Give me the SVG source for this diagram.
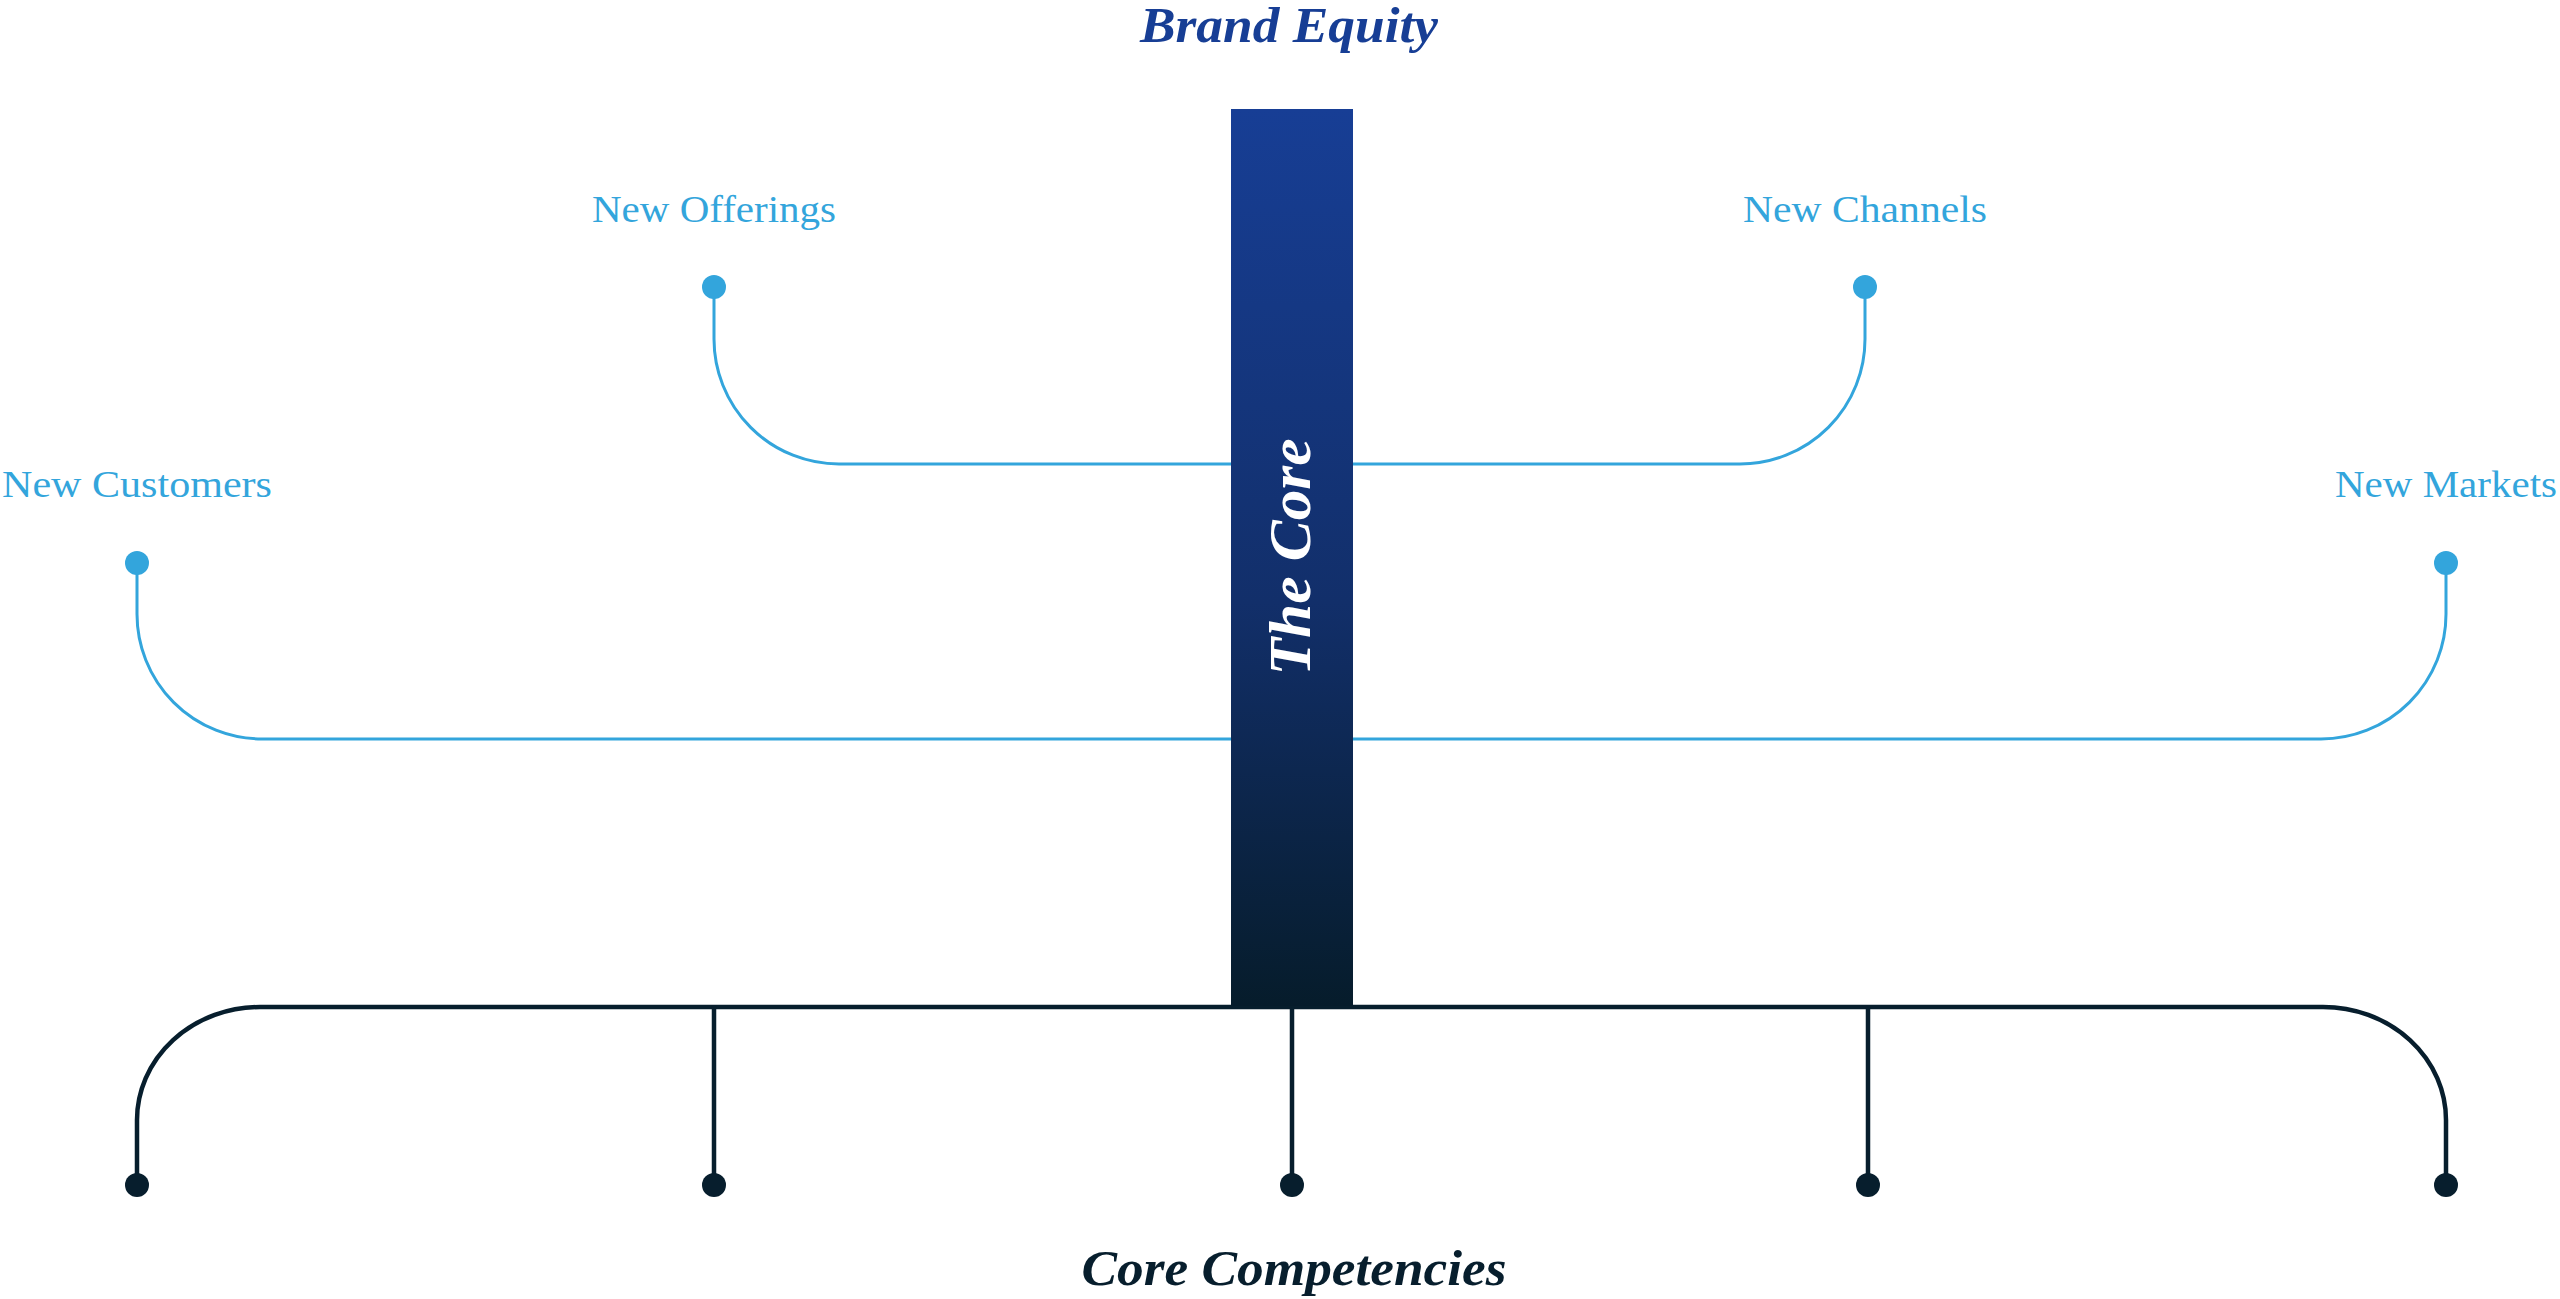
<svg xmlns="http://www.w3.org/2000/svg" width="2560" height="1299" viewBox="0 0 2560 1299">
<defs>
<linearGradient id="barGrad" x1="0" y1="0" x2="0" y2="1">
<stop offset="0" stop-color="#173e95"/>
<stop offset="0.55" stop-color="#122f6a"/>
<stop offset="1" stop-color="#061c2b"/>
</linearGradient>
<style>
.blue{fill:none;stroke:#33a5dc;stroke-width:3}
.dark{fill:none;stroke:#071e2d;stroke-width:4.5}
.bdot{fill:#33a5dc}
.ddot{fill:#071e2d}
.lbl{font-family:"Liberation Serif","Times New Roman",serif;font-size:38px;fill:#33a5dc;text-anchor:middle}
.ttl{font-family:"Liberation Serif","Times New Roman",serif;font-weight:bold;font-style:italic;text-anchor:middle}
</style>
</defs>
<rect width="2560" height="1299" fill="#ffffff"/>
<g id="connectors">
<path class="blue" d="M714,287 V339 A125,125 0 0 0 839,464 H1231"/>
<path class="blue" d="M1353,464 H1740 A125,125 0 0 0 1865,339 V287"/>
<path class="blue" d="M137,563 V614 A125,125 0 0 0 262,739 H1231"/>
<path class="blue" d="M1353,739 H2321 A125,125 0 0 0 2446,614 V563"/>
<path class="dark" d="M137,1185 V1120 A123,113 0 0 1 260,1007 H2323 A123,113 0 0 1 2446,1120 V1185"/>
<path class="dark" d="M714,1007 V1185"/>
<path class="dark" d="M1292,1007 V1185"/>
<path class="dark" d="M1868,1007 V1185"/>
</g>
<g id="core">
<rect x="1231" y="109" width="122" height="897" fill="url(#barGrad)"/>
<text class="ttl" transform="translate(1310,557) rotate(-90)" x="0" y="0" font-size="60" fill="#ffffff" textLength="237" lengthAdjust="spacingAndGlyphs">The Core</text>
</g>
<g id="brand-equity">
<text class="ttl" x="1289" y="42" font-size="50" fill="#173e95" textLength="298" lengthAdjust="spacingAndGlyphs">Brand Equity</text>
</g>
<g id="core-competencies">
<text class="ttl" x="1294" y="1285" font-size="50" fill="#071e2d" textLength="425" lengthAdjust="spacingAndGlyphs">Core Competencies</text>
</g>
<g id="new-offerings">
<text class="lbl" x="714" y="222" textLength="244" lengthAdjust="spacingAndGlyphs">New Offerings</text>
<circle class="bdot" cx="714" cy="287" r="12"/>
</g>
<g id="new-channels">
<text class="lbl" x="1865" y="222" textLength="244" lengthAdjust="spacingAndGlyphs">New Channels</text>
<circle class="bdot" cx="1865" cy="287" r="12"/>
</g>
<g id="new-customers">
<text class="lbl" x="137" y="497" textLength="270" lengthAdjust="spacingAndGlyphs">New Customers</text>
<circle class="bdot" cx="137" cy="563" r="12"/>
</g>
<g id="new-markets">
<text class="lbl" x="2446" y="497" textLength="222" lengthAdjust="spacingAndGlyphs">New Markets</text>
<circle class="bdot" cx="2446" cy="563" r="12"/>
</g>
<g id="competency-dots">
<circle class="ddot" cx="137" cy="1185" r="12"/>
<circle class="ddot" cx="714" cy="1185" r="12"/>
<circle class="ddot" cx="1292" cy="1185" r="12"/>
<circle class="ddot" cx="1868" cy="1185" r="12"/>
<circle class="ddot" cx="2446" cy="1185" r="12"/>
</g>
</svg>
